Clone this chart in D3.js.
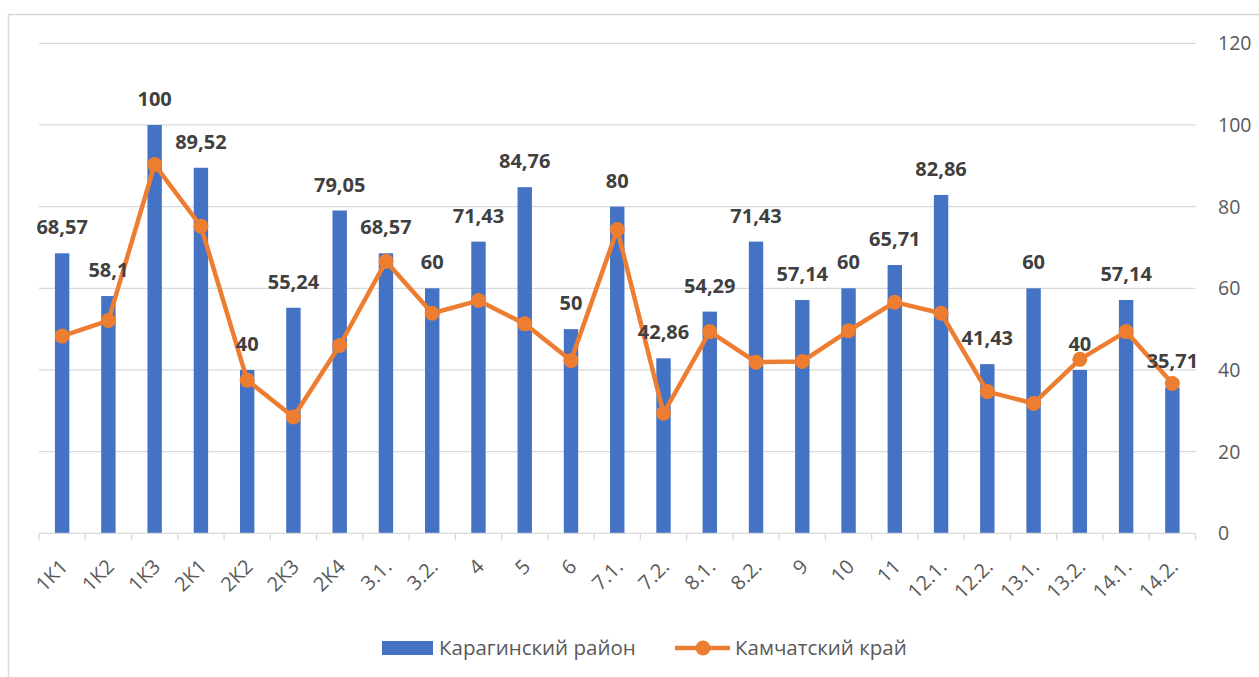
<!DOCTYPE html>
<html>
<head>
<meta charset="utf-8">
<script src="https://cdn.jsdelivr.net/npm/d3@7"></script>
<style>
  body { margin: 0; background: #fff; }
  svg { display: block; font-family: "Open Sans", sans-serif; }
</style>
</head>
<body>
<div id="chart"></div>
<script>
'use strict';

// data
var categories = ['1К1', '1К2', '1К3', '2К1', '2К2', '2К3', '2К4', '3.1.', '3.2.', '4', '5', '6',
  '7.1.', '7.2.', '8.1.', '8.2.', '9', '10', '11', '12.1.', '12.2.', '13.1.', '13.2.', '14.1.', '14.2.'];
var karaginsky = [68.57, 58.1, 100, 89.52, 40, 55.24, 79.05, 68.57, 60, 71.43, 84.76, 50,
  80, 42.86, 54.29, 71.43, 57.14, 60, 65.71, 82.86, 41.43, 60, 40, 57.14, 35.71];
var kamchatka = [48.3, 52.1, 90.3, 75.2, 37.5, 28.5, 46, 66.6, 53.9, 57, 51.3, 42.3,
  74.4, 29.4, 49.4, 41.9, 42.1, 49.6, 56.6, 53.9, 34.7, 31.8, 42.6, 49.4, 36.7];
var yTicks = [0, 20, 40, 60, 80, 100, 120];
var seriesNames = ['Карагинский район', 'Камчатский край'];

InitChart();

function InitChart() {
  var WIDTH = 1259,
    HEIGHT = 677;
  var BLUE = '#4472C4',
    ORANGE = '#ED7D31',
    GRID = '#d9d9d9';

  var svg = d3.select('#chart').append('svg')
    .attr('width', WIDTH)
    .attr('height', HEIGHT);

  // chart border
  svg.append('rect')
    .attr('x', 8.5)
    .attr('y', 14.5)
    .attr('width', 1300)
    .attr('height', 700)
    .attr('fill', 'none')
    .attr('stroke', GRID)
    .attr('stroke-width', 1.5);

  var x = d3.scaleBand()
    .domain(categories)
    .range([39, 1195.5]);

  var y = d3.scaleLinear()
    .domain([0, 120])
    .range([533.3, 43.3]);

  // gridlines
  svg.append('g')
    .selectAll('line')
    .data(yTicks.filter(function(d) { return d > 0; }))
    .enter().append('line')
      .attr('x1', 39)
      .attr('x2', 1195.5)
      .attr('y1', function(d) { return y(d); })
      .attr('y2', function(d) { return y(d); })
      .attr('stroke', GRID)
      .attr('stroke-width', 1.3);

  // right axis labels
  svg.append('g')
    .selectAll('text')
    .data(yTicks)
    .enter().append('text')
      .attr('x', 1218)
      .attr('y', function(d) { return y(d); })
      .attr('dy', '0.36em')
      .attr('font-size', 19.5)
      .attr('fill', '#595959')
      .text(function(d) { return d; });

  // bars
  svg.append('g')
    .selectAll('rect')
    .data(karaginsky)
    .enter().append('rect')
      .attr('x', function(d, i) { return x(categories[i]) + x.bandwidth() / 2 - 7.2; })
      .attr('width', 14.4)
      .attr('y', function(d) { return y(d); })
      .attr('height', function(d) { return y(0) - y(d); })
      .attr('fill', BLUE);

  // x axis
  var xAxis = svg.append('g');
  xAxis.append('line')
    .attr('x1', 39)
    .attr('x2', 1195.5)
    .attr('y1', y(0))
    .attr('y2', y(0))
    .attr('stroke', GRID)
    .attr('stroke-width', 1.3);
  var bounds = categories.map(function(c) { return x(c); }).concat([1195.5]);
  xAxis.selectAll('.tick')
    .data(bounds)
    .enter().append('line')
      .attr('x1', function(d) { return d; })
      .attr('x2', function(d) { return d; })
      .attr('y1', y(0))
      .attr('y2', y(0) + 7)
      .attr('stroke', GRID)
      .attr('stroke-width', 1.3);
  xAxis.selectAll('text')
    .data(categories)
    .enter().append('text')
      .attr('transform', function(d) {
        return 'translate(' + (x(d) + x.bandwidth() / 2 + 2) + ',563) rotate(-45)';
      })
      .attr('text-anchor', 'end')
      .attr('dy', '0.35em')
      .attr('font-size', 20)
      .attr('fill', '#595959')
      .text(function(d) { return d; });

  // line series
  var line = d3.line()
    .x(function(d, i) { return x(categories[i]) + x.bandwidth() / 2; })
    .y(function(d) { return y(d); });

  svg.append('path')
    .datum(kamchatka)
    .attr('d', line)
    .attr('fill', 'none')
    .attr('stroke', ORANGE)
    .attr('stroke-width', 4.5)
    .attr('stroke-linejoin', 'round');

  svg.append('g')
    .selectAll('circle')
    .data(kamchatka)
    .enter().append('circle')
      .attr('cx', function(d, i) { return x(categories[i]) + x.bandwidth() / 2; })
      .attr('cy', function(d) { return y(d); })
      .attr('r', 7.5)
      .attr('fill', ORANGE);

  // data labels
  svg.append('g')
    .selectAll('text')
    .data(karaginsky)
    .enter().append('text')
      .attr('x', function(d, i) { return x(categories[i]) + x.bandwidth() / 2; })
      .attr('y', function(d) { return y(d) - 19; })
      .attr('text-anchor', 'middle')
      .attr('font-size', 20)
      .attr('font-weight', 'bold')
      .attr('fill', '#404040')
      .text(function(d) { return String(d).replace('.', ','); });

  // legend
  var legend = svg.append('g');
  legend.append('rect')
    .attr('x', 382)
    .attr('y', 641)
    .attr('width', 51)
    .attr('height', 14)
    .attr('fill', BLUE);
  legend.append('text')
    .attr('x', 439)
    .attr('y', 648)
    .attr('dy', '0.35em')
    .attr('font-size', 20.5)
    .attr('fill', '#595959')
    .text(seriesNames[0]);
  legend.append('line')
    .attr('x1', 675)
    .attr('x2', 730)
    .attr('y1', 648)
    .attr('y2', 648)
    .attr('stroke', ORANGE)
    .attr('stroke-width', 4.5);
  legend.append('circle')
    .attr('cx', 703)
    .attr('cy', 648)
    .attr('r', 7.5)
    .attr('fill', ORANGE);
  legend.append('text')
    .attr('x', 735)
    .attr('y', 648)
    .attr('dy', '0.35em')
    .attr('font-size', 20.5)
    .attr('fill', '#595959')
    .text(seriesNames[1]);
}
</script>
</body>
</html>
